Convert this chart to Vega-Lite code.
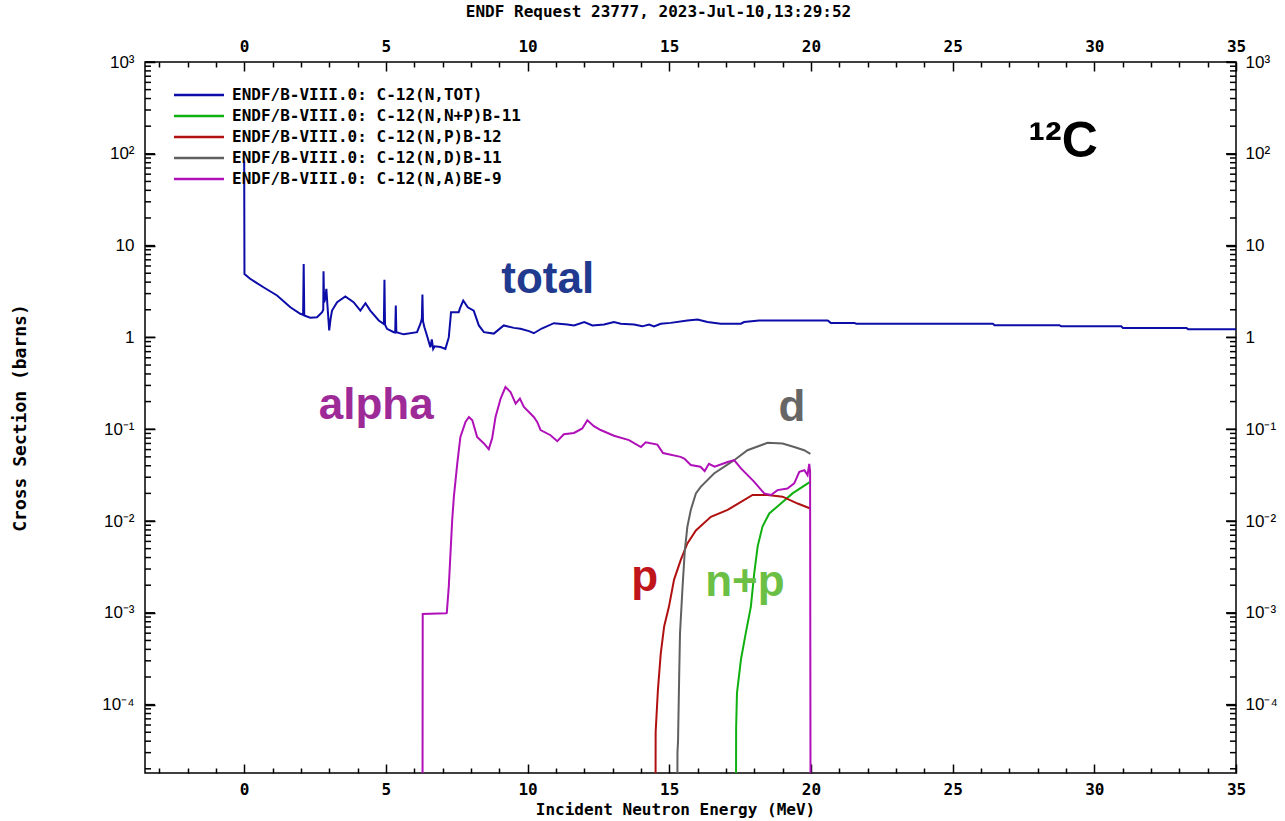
{
  "$schema": "https://vega.github.io/schema/vega-lite/v6.json",
  "width": 1091,
  "height": 711,
  "autosize": {"type": "none"},
  "padding": {"left": 145, "top": 62, "right": 49, "bottom": 48},
  "background": "white",
  "title": {"text": "ENDF Request 23777, 2023-Jul-10,13:29:52", "font": "DejaVu Sans Mono", "fontSize": 16, "fontWeight": "bold", "color": "black", "anchor": "middle", "dx": -32, "offset": 18},
  "datasets": {
    "xs": [
      {"reaction": "(N,TOT)", "E": 0, "xs": 84},
      {"reaction": "(N,TOT)", "E": 0.01, "xs": 4.9},
      {"reaction": "(N,TOT)", "E": 0.21, "xs": 4.35},
      {"reaction": "(N,TOT)", "E": 0.68, "xs": 3.52},
      {"reaction": "(N,TOT)", "E": 1.16, "xs": 2.86},
      {"reaction": "(N,TOT)", "E": 1.63, "xs": 2.13},
      {"reaction": "(N,TOT)", "E": 1.98, "xs": 1.81},
      {"reaction": "(N,TOT)", "E": 2.08, "xs": 1.76},
      {"reaction": "(N,TOT)", "E": 2.1, "xs": 6.3},
      {"reaction": "(N,TOT)", "E": 2.12, "xs": 1.73},
      {"reaction": "(N,TOT)", "E": 2.33, "xs": 1.64},
      {"reaction": "(N,TOT)", "E": 2.57, "xs": 1.66},
      {"reaction": "(N,TOT)", "E": 2.75, "xs": 1.88},
      {"reaction": "(N,TOT)", "E": 2.79, "xs": 2.0},
      {"reaction": "(N,TOT)", "E": 2.8, "xs": 5.25},
      {"reaction": "(N,TOT)", "E": 2.82, "xs": 2.4},
      {"reaction": "(N,TOT)", "E": 2.86, "xs": 2.63},
      {"reaction": "(N,TOT)", "E": 2.9, "xs": 3.38},
      {"reaction": "(N,TOT)", "E": 2.94, "xs": 2.2},
      {"reaction": "(N,TOT)", "E": 3.0, "xs": 1.19},
      {"reaction": "(N,TOT)", "E": 3.05, "xs": 1.6},
      {"reaction": "(N,TOT)", "E": 3.1, "xs": 1.96},
      {"reaction": "(N,TOT)", "E": 3.28, "xs": 2.42},
      {"reaction": "(N,TOT)", "E": 3.57, "xs": 2.79},
      {"reaction": "(N,TOT)", "E": 3.86, "xs": 2.42},
      {"reaction": "(N,TOT)", "E": 4.1, "xs": 1.96},
      {"reaction": "(N,TOT)", "E": 4.28, "xs": 2.36},
      {"reaction": "(N,TOT)", "E": 4.45, "xs": 1.96},
      {"reaction": "(N,TOT)", "E": 4.75, "xs": 1.53},
      {"reaction": "(N,TOT)", "E": 4.93, "xs": 1.4},
      {"reaction": "(N,TOT)", "E": 4.95, "xs": 4.24},
      {"reaction": "(N,TOT)", "E": 4.97, "xs": 1.38},
      {"reaction": "(N,TOT)", "E": 5.04, "xs": 1.24},
      {"reaction": "(N,TOT)", "E": 5.28, "xs": 1.14},
      {"reaction": "(N,TOT)", "E": 5.33, "xs": 1.13},
      {"reaction": "(N,TOT)", "E": 5.35, "xs": 2.23},
      {"reaction": "(N,TOT)", "E": 5.37, "xs": 1.14},
      {"reaction": "(N,TOT)", "E": 5.63, "xs": 1.08},
      {"reaction": "(N,TOT)", "E": 6.1, "xs": 1.14},
      {"reaction": "(N,TOT)", "E": 6.22, "xs": 1.41},
      {"reaction": "(N,TOT)", "E": 6.27, "xs": 1.6},
      {"reaction": "(N,TOT)", "E": 6.29, "xs": 2.93},
      {"reaction": "(N,TOT)", "E": 6.31, "xs": 1.5},
      {"reaction": "(N,TOT)", "E": 6.36, "xs": 1.29},
      {"reaction": "(N,TOT)", "E": 6.45, "xs": 1.05},
      {"reaction": "(N,TOT)", "E": 6.57, "xs": 0.78},
      {"reaction": "(N,TOT)", "E": 6.62, "xs": 0.95},
      {"reaction": "(N,TOT)", "E": 6.67, "xs": 0.75},
      {"reaction": "(N,TOT)", "E": 6.72, "xs": 0.8},
      {"reaction": "(N,TOT)", "E": 6.93, "xs": 0.785},
      {"reaction": "(N,TOT)", "E": 7.1, "xs": 0.75},
      {"reaction": "(N,TOT)", "E": 7.22, "xs": 1.0},
      {"reaction": "(N,TOT)", "E": 7.3, "xs": 1.88},
      {"reaction": "(N,TOT)", "E": 7.57, "xs": 1.88},
      {"reaction": "(N,TOT)", "E": 7.62, "xs": 2.1},
      {"reaction": "(N,TOT)", "E": 7.73, "xs": 2.52},
      {"reaction": "(N,TOT)", "E": 7.89, "xs": 2.13},
      {"reaction": "(N,TOT)", "E": 8.1, "xs": 1.96},
      {"reaction": "(N,TOT)", "E": 8.28, "xs": 1.35},
      {"reaction": "(N,TOT)", "E": 8.46, "xs": 1.14},
      {"reaction": "(N,TOT)", "E": 8.81, "xs": 1.1},
      {"reaction": "(N,TOT)", "E": 9.16, "xs": 1.35},
      {"reaction": "(N,TOT)", "E": 9.52, "xs": 1.27},
      {"reaction": "(N,TOT)", "E": 9.75, "xs": 1.24},
      {"reaction": "(N,TOT)", "E": 10.05, "xs": 1.17},
      {"reaction": "(N,TOT)", "E": 10.22, "xs": 1.11},
      {"reaction": "(N,TOT)", "E": 10.5, "xs": 1.25},
      {"reaction": "(N,TOT)", "E": 10.93, "xs": 1.43},
      {"reaction": "(N,TOT)", "E": 11.4, "xs": 1.38},
      {"reaction": "(N,TOT)", "E": 11.64, "xs": 1.35},
      {"reaction": "(N,TOT)", "E": 12.0, "xs": 1.47},
      {"reaction": "(N,TOT)", "E": 12.29, "xs": 1.35},
      {"reaction": "(N,TOT)", "E": 12.7, "xs": 1.38},
      {"reaction": "(N,TOT)", "E": 13.05, "xs": 1.47},
      {"reaction": "(N,TOT)", "E": 13.29, "xs": 1.41},
      {"reaction": "(N,TOT)", "E": 13.76, "xs": 1.38},
      {"reaction": "(N,TOT)", "E": 14.05, "xs": 1.32},
      {"reaction": "(N,TOT)", "E": 14.29, "xs": 1.38},
      {"reaction": "(N,TOT)", "E": 14.46, "xs": 1.32},
      {"reaction": "(N,TOT)", "E": 14.7, "xs": 1.41},
      {"reaction": "(N,TOT)", "E": 15.05, "xs": 1.44},
      {"reaction": "(N,TOT)", "E": 15.64, "xs": 1.53},
      {"reaction": "(N,TOT)", "E": 16.0, "xs": 1.57},
      {"reaction": "(N,TOT)", "E": 16.35, "xs": 1.47},
      {"reaction": "(N,TOT)", "E": 16.82, "xs": 1.41},
      {"reaction": "(N,TOT)", "E": 17.53, "xs": 1.41},
      {"reaction": "(N,TOT)", "E": 17.64, "xs": 1.47},
      {"reaction": "(N,TOT)", "E": 18.17, "xs": 1.53},
      {"reaction": "(N,TOT)", "E": 20.59, "xs": 1.53},
      {"reaction": "(N,TOT)", "E": 20.7, "xs": 1.44},
      {"reaction": "(N,TOT)", "E": 21.53, "xs": 1.44},
      {"reaction": "(N,TOT)", "E": 21.6, "xs": 1.41},
      {"reaction": "(N,TOT)", "E": 26.42, "xs": 1.41},
      {"reaction": "(N,TOT)", "E": 26.48, "xs": 1.36},
      {"reaction": "(N,TOT)", "E": 28.77, "xs": 1.36},
      {"reaction": "(N,TOT)", "E": 28.83, "xs": 1.32},
      {"reaction": "(N,TOT)", "E": 30.95, "xs": 1.32},
      {"reaction": "(N,TOT)", "E": 31.01, "xs": 1.27},
      {"reaction": "(N,TOT)", "E": 33.25, "xs": 1.27},
      {"reaction": "(N,TOT)", "E": 33.31, "xs": 1.23},
      {"reaction": "(N,TOT)", "E": 35.0, "xs": 1.23},

      {"reaction": "(N,N+P)B-11", "E": 17.35, "xs": 0.000001},
      {"reaction": "(N,N+P)B-11", "E": 17.36, "xs": 0.000055},
      {"reaction": "(N,N+P)B-11", "E": 17.39, "xs": 0.000134},
      {"reaction": "(N,N+P)B-11", "E": 17.53, "xs": 0.00031},
      {"reaction": "(N,N+P)B-11", "E": 17.7, "xs": 0.0006},
      {"reaction": "(N,N+P)B-11", "E": 17.88, "xs": 0.00117},
      {"reaction": "(N,N+P)B-11", "E": 18.0, "xs": 0.0027},
      {"reaction": "(N,N+P)B-11", "E": 18.12, "xs": 0.0053},
      {"reaction": "(N,N+P)B-11", "E": 18.29, "xs": 0.0087},
      {"reaction": "(N,N+P)B-11", "E": 18.53, "xs": 0.0121},
      {"reaction": "(N,N+P)B-11", "E": 18.94, "xs": 0.0155},
      {"reaction": "(N,N+P)B-11", "E": 19.35, "xs": 0.02},
      {"reaction": "(N,N+P)B-11", "E": 19.97, "xs": 0.0267},

      {"reaction": "(N,P)B-12", "E": 14.51, "xs": 0.000001},
      {"reaction": "(N,P)B-12", "E": 14.52, "xs": 0.00005},
      {"reaction": "(N,P)B-12", "E": 14.6, "xs": 0.000145},
      {"reaction": "(N,P)B-12", "E": 14.7, "xs": 0.00036},
      {"reaction": "(N,P)B-12", "E": 14.82, "xs": 0.00071},
      {"reaction": "(N,P)B-12", "E": 14.99, "xs": 0.00117},
      {"reaction": "(N,P)B-12", "E": 15.17, "xs": 0.0023},
      {"reaction": "(N,P)B-12", "E": 15.41, "xs": 0.0038},
      {"reaction": "(N,P)B-12", "E": 15.64, "xs": 0.0057},
      {"reaction": "(N,P)B-12", "E": 15.94, "xs": 0.0079},
      {"reaction": "(N,P)B-12", "E": 16.47, "xs": 0.0111},
      {"reaction": "(N,P)B-12", "E": 17.06, "xs": 0.0132},
      {"reaction": "(N,P)B-12", "E": 17.94, "xs": 0.0192},
      {"reaction": "(N,P)B-12", "E": 18.47, "xs": 0.0192},
      {"reaction": "(N,P)B-12", "E": 19.0, "xs": 0.0184},
      {"reaction": "(N,P)B-12", "E": 19.53, "xs": 0.0155},
      {"reaction": "(N,P)B-12", "E": 19.98, "xs": 0.0137},

      {"reaction": "(N,D)B-11", "E": 15.28, "xs": 0.000001},
      {"reaction": "(N,D)B-11", "E": 15.29, "xs": 0.00003},
      {"reaction": "(N,D)B-11", "E": 15.31, "xs": 0.00004},
      {"reaction": "(N,D)B-11", "E": 15.35, "xs": 0.0002},
      {"reaction": "(N,D)B-11", "E": 15.38, "xs": 0.0006},
      {"reaction": "(N,D)B-11", "E": 15.47, "xs": 0.00193},
      {"reaction": "(N,D)B-11", "E": 15.55, "xs": 0.0048},
      {"reaction": "(N,D)B-11", "E": 15.64, "xs": 0.0087},
      {"reaction": "(N,D)B-11", "E": 15.76, "xs": 0.0132},
      {"reaction": "(N,D)B-11", "E": 15.94, "xs": 0.02},
      {"reaction": "(N,D)B-11", "E": 16.11, "xs": 0.0236},
      {"reaction": "(N,D)B-11", "E": 16.58, "xs": 0.033},
      {"reaction": "(N,D)B-11", "E": 17.29, "xs": 0.046},
      {"reaction": "(N,D)B-11", "E": 17.76, "xs": 0.059},
      {"reaction": "(N,D)B-11", "E": 18.47, "xs": 0.071},
      {"reaction": "(N,D)B-11", "E": 19.0, "xs": 0.07},
      {"reaction": "(N,D)B-11", "E": 19.41, "xs": 0.064},
      {"reaction": "(N,D)B-11", "E": 19.76, "xs": 0.059},
      {"reaction": "(N,D)B-11", "E": 19.98, "xs": 0.054},

      {"reaction": "(N,A)BE-9", "E": 6.29, "xs": 0.000001},
      {"reaction": "(N,A)BE-9", "E": 6.3, "xs": 0.00097},
      {"reaction": "(N,A)BE-9", "E": 7.12, "xs": 0.00099},
      {"reaction": "(N,A)BE-9", "E": 7.15, "xs": 0.001},
      {"reaction": "(N,A)BE-9", "E": 7.22, "xs": 0.00193},
      {"reaction": "(N,A)BE-9", "E": 7.34, "xs": 0.0102},
      {"reaction": "(N,A)BE-9", "E": 7.4, "xs": 0.0184},
      {"reaction": "(N,A)BE-9", "E": 7.52, "xs": 0.0424},
      {"reaction": "(N,A)BE-9", "E": 7.63, "xs": 0.0825},
      {"reaction": "(N,A)BE-9", "E": 7.81, "xs": 0.12},
      {"reaction": "(N,A)BE-9", "E": 7.93, "xs": 0.136},
      {"reaction": "(N,A)BE-9", "E": 8.05, "xs": 0.125},
      {"reaction": "(N,A)BE-9", "E": 8.22, "xs": 0.0825},
      {"reaction": "(N,A)BE-9", "E": 8.46, "xs": 0.07},
      {"reaction": "(N,A)BE-9", "E": 8.63, "xs": 0.0607},
      {"reaction": "(N,A)BE-9", "E": 8.75, "xs": 0.0794},
      {"reaction": "(N,A)BE-9", "E": 8.87, "xs": 0.136},
      {"reaction": "(N,A)BE-9", "E": 9.05, "xs": 0.216},
      {"reaction": "(N,A)BE-9", "E": 9.22, "xs": 0.288},
      {"reaction": "(N,A)BE-9", "E": 9.4, "xs": 0.254},
      {"reaction": "(N,A)BE-9", "E": 9.58, "xs": 0.19},
      {"reaction": "(N,A)BE-9", "E": 9.73, "xs": 0.216},
      {"reaction": "(N,A)BE-9", "E": 9.87, "xs": 0.175},
      {"reaction": "(N,A)BE-9", "E": 10.22, "xs": 0.136},
      {"reaction": "(N,A)BE-9", "E": 10.34, "xs": 0.12},
      {"reaction": "(N,A)BE-9", "E": 10.46, "xs": 0.0977},
      {"reaction": "(N,A)BE-9", "E": 10.81, "xs": 0.086},
      {"reaction": "(N,A)BE-9", "E": 11.05, "xs": 0.074},
      {"reaction": "(N,A)BE-9", "E": 11.28, "xs": 0.088},
      {"reaction": "(N,A)BE-9", "E": 11.64, "xs": 0.091},
      {"reaction": "(N,A)BE-9", "E": 11.93, "xs": 0.102},
      {"reaction": "(N,A)BE-9", "E": 12.11, "xs": 0.125},
      {"reaction": "(N,A)BE-9", "E": 12.34, "xs": 0.108},
      {"reaction": "(N,A)BE-9", "E": 12.58, "xs": 0.098},
      {"reaction": "(N,A)BE-9", "E": 13.05, "xs": 0.085},
      {"reaction": "(N,A)BE-9", "E": 13.58, "xs": 0.076},
      {"reaction": "(N,A)BE-9", "E": 14.0, "xs": 0.064},
      {"reaction": "(N,A)BE-9", "E": 14.17, "xs": 0.072},
      {"reaction": "(N,A)BE-9", "E": 14.58, "xs": 0.068},
      {"reaction": "(N,A)BE-9", "E": 14.78, "xs": 0.055},
      {"reaction": "(N,A)BE-9", "E": 15.4, "xs": 0.05},
      {"reaction": "(N,A)BE-9", "E": 15.53, "xs": 0.048},
      {"reaction": "(N,A)BE-9", "E": 15.76, "xs": 0.0407},
      {"reaction": "(N,A)BE-9", "E": 16.1, "xs": 0.039},
      {"reaction": "(N,A)BE-9", "E": 16.25, "xs": 0.035},
      {"reaction": "(N,A)BE-9", "E": 16.4, "xs": 0.042},
      {"reaction": "(N,A)BE-9", "E": 16.6, "xs": 0.039},
      {"reaction": "(N,A)BE-9", "E": 17.06, "xs": 0.044},
      {"reaction": "(N,A)BE-9", "E": 17.29, "xs": 0.046},
      {"reaction": "(N,A)BE-9", "E": 17.53, "xs": 0.0374},
      {"reaction": "(N,A)BE-9", "E": 18.0, "xs": 0.0267},
      {"reaction": "(N,A)BE-9", "E": 18.35, "xs": 0.02},
      {"reaction": "(N,A)BE-9", "E": 18.59, "xs": 0.0192},
      {"reaction": "(N,A)BE-9", "E": 18.82, "xs": 0.0217},
      {"reaction": "(N,A)BE-9", "E": 19.17, "xs": 0.0226},
      {"reaction": "(N,A)BE-9", "E": 19.41, "xs": 0.0257},
      {"reaction": "(N,A)BE-9", "E": 19.59, "xs": 0.0344},
      {"reaction": "(N,A)BE-9", "E": 19.77, "xs": 0.0357},
      {"reaction": "(N,A)BE-9", "E": 19.88, "xs": 0.0316},
      {"reaction": "(N,A)BE-9", "E": 19.94, "xs": 0.042},
      {"reaction": "(N,A)BE-9", "E": 19.97, "xs": 0.035},
      {"reaction": "(N,A)BE-9", "E": 19.99, "xs": 0.000001}
    ],
    "notes": [
      {"label": "total", "E": 10.71, "xs": 4.2},
      {"label": "alpha", "E": 4.66, "xs": 0.18},
      {"label": "d", "E": 19.33, "xs": 0.17},
      {"label": "p", "E": 14.13, "xs": 0.0024},
      {"label": "n+p", "E": 17.67, "xs": 0.0021},
      {"label": "¹²C", "E": 28.9, "xs": 135}
    ],
    "yticks": [
      {"v": 0.0001, "kind": "major"}, {"v": 0.001, "kind": "major"}, {"v": 0.01, "kind": "major"}, {"v": 0.1, "kind": "major"},
      {"v": 1, "kind": "major"}, {"v": 10, "kind": "major"}, {"v": 100, "kind": "major"}, {"v": 1000, "kind": "major"},
      {"v": 0.00002, "kind": "minor"}, {"v": 0.00003, "kind": "minor"}, {"v": 0.00004, "kind": "minor"}, {"v": 0.00005, "kind": "minor"},
      {"v": 0.00006, "kind": "minor"}, {"v": 0.00007, "kind": "minor"}, {"v": 0.00008, "kind": "minor"}, {"v": 0.00009, "kind": "minor"},
      {"v": 0.0002, "kind": "minor"}, {"v": 0.0003, "kind": "minor"}, {"v": 0.0004, "kind": "minor"}, {"v": 0.0005, "kind": "minor"},
      {"v": 0.0006, "kind": "minor"}, {"v": 0.0007, "kind": "minor"}, {"v": 0.0008, "kind": "minor"}, {"v": 0.0009, "kind": "minor"},
      {"v": 0.002, "kind": "minor"}, {"v": 0.003, "kind": "minor"}, {"v": 0.004, "kind": "minor"}, {"v": 0.005, "kind": "minor"},
      {"v": 0.006, "kind": "minor"}, {"v": 0.007, "kind": "minor"}, {"v": 0.008, "kind": "minor"}, {"v": 0.009, "kind": "minor"},
      {"v": 0.02, "kind": "minor"}, {"v": 0.03, "kind": "minor"}, {"v": 0.04, "kind": "minor"}, {"v": 0.05, "kind": "minor"},
      {"v": 0.06, "kind": "minor"}, {"v": 0.07, "kind": "minor"}, {"v": 0.08, "kind": "minor"}, {"v": 0.09, "kind": "minor"},
      {"v": 0.2, "kind": "minor"}, {"v": 0.3, "kind": "minor"}, {"v": 0.4, "kind": "minor"}, {"v": 0.5, "kind": "minor"},
      {"v": 0.6, "kind": "minor"}, {"v": 0.7, "kind": "minor"}, {"v": 0.8, "kind": "minor"}, {"v": 0.9, "kind": "minor"},
      {"v": 2, "kind": "minor"}, {"v": 3, "kind": "minor"}, {"v": 4, "kind": "minor"}, {"v": 5, "kind": "minor"},
      {"v": 6, "kind": "minor"}, {"v": 7, "kind": "minor"}, {"v": 8, "kind": "minor"}, {"v": 9, "kind": "minor"},
      {"v": 20, "kind": "minor"}, {"v": 30, "kind": "minor"}, {"v": 40, "kind": "minor"}, {"v": 50, "kind": "minor"},
      {"v": 60, "kind": "minor"}, {"v": 70, "kind": "minor"}, {"v": 80, "kind": "minor"}, {"v": 90, "kind": "minor"},
      {"v": 200, "kind": "minor"}, {"v": 300, "kind": "minor"}, {"v": 400, "kind": "minor"}, {"v": 500, "kind": "minor"},
      {"v": 600, "kind": "minor"}, {"v": 700, "kind": "minor"}, {"v": 800, "kind": "minor"}, {"v": 900, "kind": "minor"}
    ]
  },
  "layer": [
    {
      "data": {"name": "xs"},
      "transform": [{"filter": "datum.reaction === '(N,TOT)'"}],
      "mark": {"type": "line", "strokeWidth": 2, "clip": true},
      "encoding": {
        "x": {"field": "E", "type": "quantitative", "scale": {"domain": [-3.5, 35], "nice": false, "zero": false},
          "axis": {"orient": "bottom", "values": [0, 5, 10, 15, 20, 25, 30, 35], "offset": -9, "tickSize": 9, "labelPadding": 8,
            "title": "Incident Neutron Energy (MeV)", "titleX": 530, "titlePadding": 4}},
        "y": {"field": "xs", "type": "quantitative", "scale": {"type": "log", "domain": [0.000018, 1000], "nice": false},
          "axis": {"orient": "left", "values": [0.0001, 0.001, 0.01, 0.1, 1, 10, 100, 1000], "offset": -10, "tickSize": 10, "labelPadding": 11,
            "labelFont": "Liberation Sans", "labelFontWeight": "normal", "labelFontSize": 17,
            "labelExpr": "datum.value > 500 ? '10³' : datum.value > 50 ? '10²' : datum.value > 5 ? '10' : datum.value > 0.5 ? '1' : datum.value > 0.05 ? '10⁻¹' : datum.value > 0.005 ? '10⁻²' : datum.value > 0.0005 ? '10⁻³' : '10⁻⁴'",
            "title": "Cross Section (barns)", "titlePadding": 72, "titleFontSize": 18}},
        "color": {"field": "reaction", "type": "nominal",
          "scale": {"domain": ["(N,TOT)", "(N,N+P)B-11", "(N,P)B-12", "(N,D)B-11", "(N,A)BE-9"], "range": ["#0c0ca8", "#10b010", "#b01010", "#606060", "#b010b8"]},
          "legend": {"orient": "none", "legendX": 46, "legendY": 25, "title": null, "labelExpr": "'ENDF/B-VIII.0: C-12' + datum.label"}}
      }
    },
    {
      "data": {"name": "xs"},
      "transform": [{"filter": "datum.reaction !== '(N,TOT)'"}],
      "mark": {"type": "line", "strokeWidth": 2, "clip": true},
      "encoding": {
        "x": {"field": "E", "type": "quantitative", "scale": {"domain": [-3.5, 35], "nice": false, "zero": false},
          "axis": {"orient": "bottom", "values": [-3, -2, -1, 1, 2, 3, 4, 6, 7, 8, 9, 11, 12, 13, 14, 16, 17, 18, 19, 21, 22, 23, 24, 26, 27, 28, 29, 31, 32, 33, 34], "offset": -5, "tickSize": 5, "labels": false, "title": null}},
        "y": {"field": "xs", "type": "quantitative", "scale": {"type": "log", "domain": [0.000018, 1000], "nice": false}, "axis": null},
        "color": {"field": "reaction", "type": "nominal",
          "scale": {"domain": ["(N,TOT)", "(N,N+P)B-11", "(N,P)B-12", "(N,D)B-11", "(N,A)BE-9"], "range": ["#0c0ca8", "#10b010", "#b01010", "#606060", "#b010b8"]},
          "legend": {"orient": "none", "legendX": 46, "legendY": 25, "title": null, "labelExpr": "'ENDF/B-VIII.0: C-12' + datum.label"}}
      }
    },
    {
      "data": {"name": "yticks"},
      "transform": [{"filter": "datum.kind === 'major'"}],
      "mark": {"type": "rule", "color": "black", "strokeWidth": 1.5},
      "encoding": {
        "y": {"field": "v", "type": "quantitative", "scale": {"type": "log", "domain": [0.000018, 1000], "nice": false}, "axis": null},
        "x": {"datum": -3.5, "type": "quantitative", "scale": {"domain": [-3.5, 35], "nice": false, "zero": false}, "axis": null},
        "x2": {"datum": -3.147}
      }
    },
    {
      "data": {"name": "yticks"},
      "transform": [{"filter": "datum.kind === 'minor'"}],
      "mark": {"type": "rule", "color": "black", "strokeWidth": 1.5},
      "encoding": {
        "y": {"field": "v", "type": "quantitative", "scale": {"type": "log", "domain": [0.000018, 1000], "nice": false}, "axis": null},
        "x": {"datum": -3.5, "type": "quantitative", "scale": {"domain": [-3.5, 35], "nice": false, "zero": false}, "axis": null},
        "x2": {"datum": -3.288}
      }
    },
    {
      "data": {"name": "yticks"},
      "transform": [{"filter": "datum.kind === 'major'"}],
      "mark": {"type": "rule", "color": "black", "strokeWidth": 1.5},
      "encoding": {
        "y": {"field": "v", "type": "quantitative", "scale": {"type": "log", "domain": [0.000018, 1000], "nice": false}, "axis": null},
        "x": {"datum": 35, "type": "quantitative", "scale": {"domain": [-3.5, 35], "nice": false, "zero": false}, "axis": null},
        "x2": {"datum": 34.647}
      }
    },
    {
      "data": {"name": "yticks"},
      "transform": [{"filter": "datum.kind === 'minor'"}],
      "mark": {"type": "rule", "color": "black", "strokeWidth": 1.5},
      "encoding": {
        "y": {"field": "v", "type": "quantitative", "scale": {"type": "log", "domain": [0.000018, 1000], "nice": false}, "axis": null},
        "x": {"datum": 35, "type": "quantitative", "scale": {"domain": [-3.5, 35], "nice": false, "zero": false}, "axis": null},
        "x2": {"datum": 34.788}
      }
    },
    {
      "data": {"name": "notes"},
      "transform": [{"filter": "datum.label === 'total'"}],
      "mark": {"type": "text", "font": "Liberation Sans", "fontWeight": "bold", "fontSize": 44, "color": "#1f3a8f", "align": "center", "baseline": "middle"},
      "encoding": {
        "x": {"field": "E", "type": "quantitative", "scale": {"domain": [-3.5, 35], "nice": false, "zero": false},
          "axis": {"orient": "top", "values": [0, 5, 10, 15, 20, 25, 30, 35], "offset": -9, "tickSize": 9, "labelPadding": 8, "title": null}},
        "y": {"field": "xs", "type": "quantitative", "scale": {"type": "log", "domain": [0.000018, 1000], "nice": false},
          "axis": {"orient": "right", "values": [0.0001, 0.001, 0.01, 0.1, 1, 10, 100, 1000], "offset": -10, "tickSize": 10, "labelPadding": 9,
            "labelFont": "Liberation Sans", "labelFontWeight": "normal", "labelFontSize": 17,
            "labelExpr": "datum.value > 500 ? '10³' : datum.value > 50 ? '10²' : datum.value > 5 ? '10' : datum.value > 0.5 ? '1' : datum.value > 0.05 ? '10⁻¹' : datum.value > 0.005 ? '10⁻²' : datum.value > 0.0005 ? '10⁻³' : '10⁻⁴'",
            "title": null}},
        "text": {"field": "label", "type": "nominal"}
      }
    },
    {
      "data": {"name": "notes"},
      "transform": [{"filter": "datum.label === 'alpha'"}],
      "mark": {"type": "text", "font": "Liberation Sans", "fontWeight": "bold", "fontSize": 44, "color": "#9e2a98", "align": "center", "baseline": "middle"},
      "encoding": {
        "x": {"field": "E", "type": "quantitative", "scale": {"domain": [-3.5, 35], "nice": false, "zero": false},
          "axis": {"orient": "top", "values": [-3, -2, -1, 1, 2, 3, 4, 6, 7, 8, 9, 11, 12, 13, 14, 16, 17, 18, 19, 21, 22, 23, 24, 26, 27, 28, 29, 31, 32, 33, 34], "offset": -5, "tickSize": 5, "labels": false, "title": null}},
        "y": {"field": "xs", "type": "quantitative", "scale": {"type": "log", "domain": [0.000018, 1000], "nice": false}, "axis": null},
        "text": {"field": "label", "type": "nominal"}
      }
    },
    {
      "data": {"name": "notes"},
      "transform": [{"filter": "datum.label === 'd'"}],
      "mark": {"type": "text", "font": "Liberation Sans", "fontWeight": "bold", "fontSize": 44, "color": "#666666", "align": "center", "baseline": "middle"},
      "encoding": {
        "x": {"field": "E", "type": "quantitative", "scale": {"domain": [-3.5, 35], "nice": false, "zero": false}, "axis": null},
        "y": {"field": "xs", "type": "quantitative", "scale": {"type": "log", "domain": [0.000018, 1000], "nice": false}, "axis": null},
        "text": {"field": "label", "type": "nominal"}
      }
    },
    {
      "data": {"name": "notes"},
      "transform": [{"filter": "datum.label === 'p'"}],
      "mark": {"type": "text", "font": "Liberation Sans", "fontWeight": "bold", "fontSize": 44, "color": "#c0161b", "align": "center", "baseline": "middle"},
      "encoding": {
        "x": {"field": "E", "type": "quantitative", "scale": {"domain": [-3.5, 35], "nice": false, "zero": false}, "axis": null},
        "y": {"field": "xs", "type": "quantitative", "scale": {"type": "log", "domain": [0.000018, 1000], "nice": false}, "axis": null},
        "text": {"field": "label", "type": "nominal"}
      }
    },
    {
      "data": {"name": "notes"},
      "transform": [{"filter": "datum.label === 'n+p'"}],
      "mark": {"type": "text", "font": "Liberation Sans", "fontWeight": "bold", "fontSize": 44, "color": "#6cbf45", "align": "center", "baseline": "middle"},
      "encoding": {
        "x": {"field": "E", "type": "quantitative", "scale": {"domain": [-3.5, 35], "nice": false, "zero": false}, "axis": null},
        "y": {"field": "xs", "type": "quantitative", "scale": {"type": "log", "domain": [0.000018, 1000], "nice": false}, "axis": null},
        "text": {"field": "label", "type": "nominal"}
      }
    },
    {
      "data": {"name": "notes"},
      "transform": [{"filter": "datum.label === '¹²C'"}],
      "mark": {"type": "text", "font": "Liberation Sans", "fontWeight": "bold", "fontSize": 50, "color": "black", "align": "center", "baseline": "middle"},
      "encoding": {
        "x": {"field": "E", "type": "quantitative", "scale": {"domain": [-3.5, 35], "nice": false, "zero": false}, "axis": null},
        "y": {"field": "xs", "type": "quantitative", "scale": {"type": "log", "domain": [0.000018, 1000], "nice": false}, "axis": null},
        "text": {"field": "label", "type": "nominal"}
      }
    }
  ],
  "resolve": {"axis": {"x": "independent", "y": "independent"}},
  "config": {
    "view": {"stroke": "black", "strokeWidth": 1.5},
    "axis": {"domain": false, "ticks": true, "tickColor": "black", "tickWidth": 1.5, "grid": false,
      "labelFont": "DejaVu Sans Mono", "labelFontWeight": "bold", "labelFontSize": 16, "labelColor": "black",
      "labelFlush": false, "labelOverlap": false,
      "titleFont": "DejaVu Sans Mono", "titleFontWeight": "bold", "titleFontSize": 16, "titleColor": "black"},
    "legend": {"symbolType": "M-5,0H5", "symbolSize": 100, "symbolStrokeWidth": 2.5, "labelFont": "DejaVu Sans Mono", "labelFontWeight": "bold", "labelFontSize": 16, "labelColor": "black", "labelOffset": 25, "labelLimit": 0, "rowPadding": 5}
  }
}
